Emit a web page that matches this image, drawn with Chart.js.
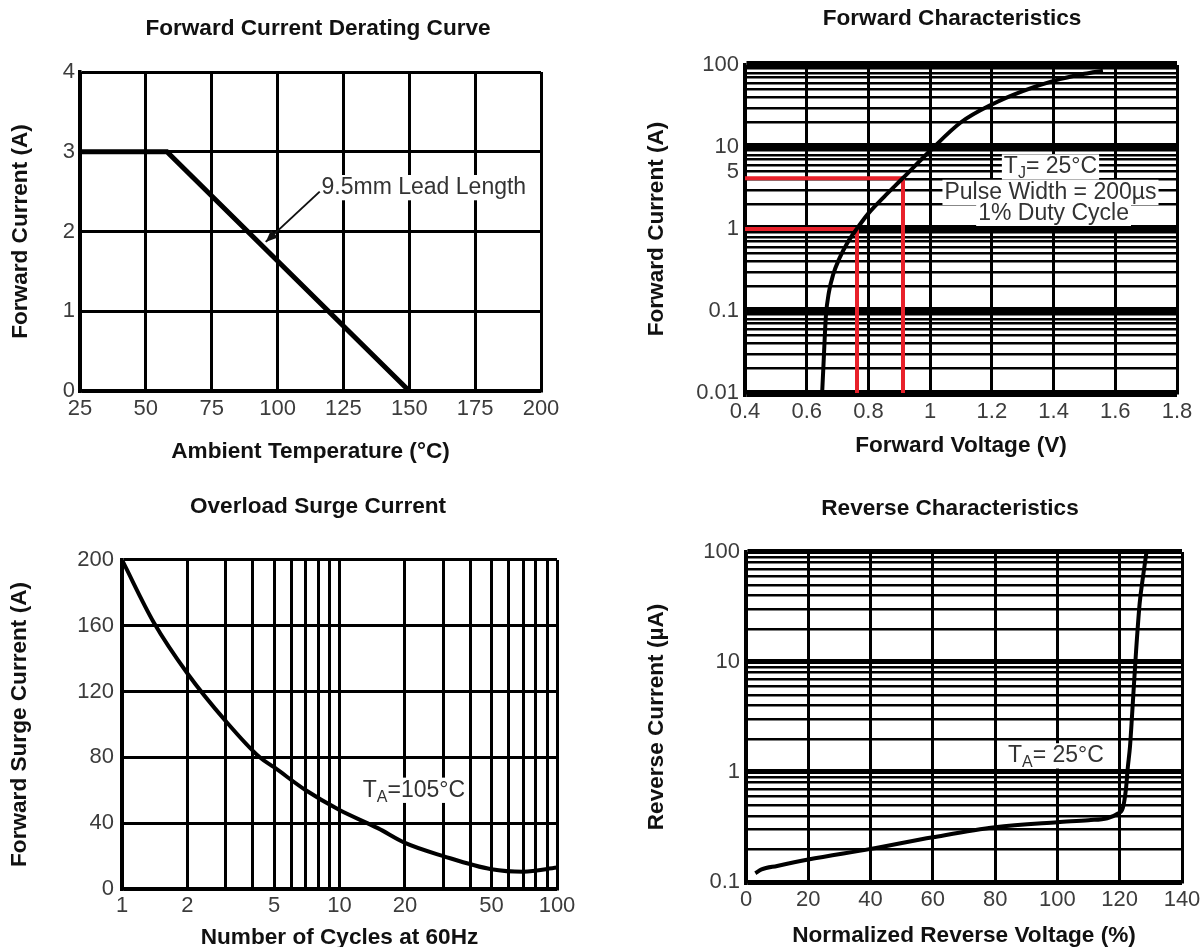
<!DOCTYPE html>
<html>
<head>
<meta charset="utf-8">
<title>Diode characteristic curves</title>
<script src="https://cdn.jsdelivr.net/npm/chart.js@4.4.1/dist/chart.umd.min.js"></script>
<style>
  html, body { margin: 0; padding: 0; background: #fff; overflow: hidden; width: 1203px; height: 947px; }
  canvas { position: absolute; }
</style>
</head>
<body>
<canvas id="deratingChart" width="636" height="470" style="left:0;top:0"></canvas>
<canvas id="forwardChart" width="624" height="470" style="left:640px;top:0"></canvas>
<canvas id="surgeChart" width="636" height="481" style="left:0;top:470px"></canvas>
<canvas id="reverseChart" width="620" height="481" style="left:640px;top:470px"></canvas>
<script>
// ---- data ----

// Forward Current Derating Curve
const deratingTemp = [25, 58, 150];
const deratingCurrent = [3, 3, 0];
const deratingXTicks = [25, 50, 75, 100, 125, 150, 175, 200];
const deratingYTicks = [0, 1, 2, 3, 4];

// Forward Characteristics
const forwardVoltage = [0.65, 0.655, 0.662, 0.672, 0.686, 0.705, 0.732, 0.762, 0.80, 0.85, 0.911, 1.0, 1.1, 1.2, 1.3, 1.4, 1.5, 1.56];
const forwardCurrent = [0.01, 0.025, 0.085, 0.17, 0.28, 0.43, 0.68, 1, 1.55, 2.45, 4.15, 9, 20, 33, 48, 64, 78, 85];
const markerVoltage = [0.763, 0.912];
const markerCurrent = [1, 4.15];
const forwardXTicks = [0.4, 0.6, 0.8, 1, 1.2, 1.4, 1.6, 1.8];
const forwardYLabels = [0.01, 0.1, 1, 5, 10, 100];

// Overload Surge Current
const surgeCycles = [1, 1.4, 2, 3, 4.3, 5, 7, 10, 15, 20, 30, 50, 70, 100];
const surgeCurrent = [200, 162, 131, 102, 80, 74, 60, 48, 37, 28, 20, 12, 10.5, 13];
const surgeXLabels = [1, 2, 5, 10, 20, 50, 100];
const surgeYTicks = [0, 40, 80, 120, 160, 200];

// Reverse Characteristics
const reverseVoltage = [3, 5, 10, 20, 40, 60, 80, 100, 110, 116, 119.5, 121, 122, 122.6, 123.3, 124, 125.2, 126.4, 127.5, 128.6];
const reverseCurrent = [0.12, 0.13, 0.14, 0.16, 0.2, 0.255, 0.315, 0.35, 0.365, 0.38, 0.42, 0.47, 0.7, 1.1, 1.7, 3.4, 11.9, 34, 60, 100];
const reverseXTicks = [0, 20, 40, 60, 80, 100, 120, 140];
const reverseYLabels = [0.1, 1, 10, 100];

// ---- helpers ----
const FONT = "'Liberation Sans', Arial, sans-serif";
const BOLD_SIZE = 22.6;

function toPoints(xs, ys) {
    return xs.map((x, i) => ({ x: x, y: ys[i] }));
}

// 1..9 x 10^n grid values between min and max
function logGrid(min, max) {
    const vals = [];
    for (let p = min; p < max; p = Number((p * 10).toPrecision(3))) {
        for (let d = 1; d < 10; d++) vals.push(Number((d * p).toPrecision(3)));
    }
    vals.push(max);
    return vals;
}

function isDecade(v) {
    const l = Math.log10(v);
    return Math.abs(l - Math.round(l)) < 1e-9;
}

function makeAxis(o) {
    return {
        type: o.type || 'linear',
        min: o.min,
        max: o.max,
        afterBuildTicks: scale => {
            scale.ticks = o.grid.map(v => ({ value: v, major: o.type === 'logarithmic' && isDecade(v) }));
        },
        afterFit: scale => {
            if (o.horizontal) scale.height = o.fit; else scale.width = o.fit;
        },
        grid: {
            color: '#000',
            lineWidth: ctx => (ctx.tick && ctx.tick.major) ? (o.majorWidth || 3) : (o.minorWidth || 3),
            drawTicks: false
        },
        border: { display: true, color: '#000', width: 3.5 },
        ticks: {
            autoSkip: false,
            maxRotation: 0,
            minRotation: 0,
            padding: o.tickPad,
            color: '#3c3c3c',
            font: { size: 22 },
            callback: v => (o.labels.indexOf(v) >= 0 ? String(v) : '')
        },
        title: {
            display: true,
            text: o.title,
            color: '#111',
            font: { size: BOLD_SIZE, weight: 'bold' },
            padding: o.titlePad
        }
    };
}

// empty right-hand box so the chart title stays centred on the whole panel
function spacer(width) {
    return {
        type: 'linear',
        position: 'right',
        display: true,
        grid: { display: false },
        ticks: { display: false },
        border: { display: false },
        afterFit: scale => { scale.width = width; }
    };
}

function drawRich(ctx, l, x, y) {
    const size = 23;
    const main = size + 'px ' + FONT;
    const small = Math.round(size * 0.7) + 'px ' + FONT;
    let w = 0;
    const widths = l.parts.map(p => {
        ctx.font = p.sub ? small : main;
        const m = ctx.measureText(p.text).width;
        w += m;
        return m;
    });
    let sx = l.align === 'left' ? x : x - w / 2;
    ctx.fillStyle = '#fff';
    ctx.fillRect(sx - 2, y - size * 0.55, w + 4, size * 1.1);
    ctx.fillStyle = '#333';
    ctx.textAlign = 'left';
    ctx.textBaseline = 'middle';
    l.parts.forEach((p, i) => {
        ctx.font = p.sub ? small : main;
        ctx.fillText(p.text, sx, p.sub ? y + size * 0.3 : y);
        sx += widths[i];
    });
}

// text notes and the leader arrow, placed in data coordinates
const notesPlugin = {
    id: 'notes',
    afterDatasetsDraw(chart, args, opts) {
        const ctx = chart.ctx;
        const xs = chart.scales.x, ys = chart.scales.y;
        ctx.save();
        (opts.labels || []).forEach(l => drawRich(ctx, l, xs.getPixelForValue(l.x), ys.getPixelForValue(l.y)));
        (opts.arrows || []).forEach(a => {
            const x1 = xs.getPixelForValue(a.from[0]), y1 = ys.getPixelForValue(a.from[1]);
            const x2 = xs.getPixelForValue(a.to[0]), y2 = ys.getPixelForValue(a.to[1]);
            const ang = Math.atan2(y2 - y1, x2 - x1);
            ctx.strokeStyle = '#111';
            ctx.fillStyle = '#111';
            ctx.lineWidth = 2;
            ctx.beginPath();
            ctx.moveTo(x1, y1);
            ctx.lineTo(x2, y2);
            ctx.stroke();
            ctx.beginPath();
            ctx.moveTo(x2, y2);
            ctx.lineTo(x2 - 13 * Math.cos(ang - 0.4), y2 - 13 * Math.sin(ang - 0.4));
            ctx.lineTo(x2 - 13 * Math.cos(ang + 0.4), y2 - 13 * Math.sin(ang + 0.4));
            ctx.closePath();
            ctx.fill();
        });
        ctx.restore();
    }
};

Chart.defaults.font.family = FONT;
Chart.defaults.animation = false;
Chart.defaults.plugins.legend.display = false;
Chart.defaults.plugins.tooltip.enabled = false;
Chart.defaults.elements.point.radius = 0;
Chart.register(notesPlugin);

function chartTitle(text, top, bottom) {
    return { display: true, text: text, color: '#111', font: { size: BOLD_SIZE, weight: 'bold' }, padding: { top: top, bottom: bottom } };
}

// Forward Current Derating Curve
new Chart(document.getElementById('deratingChart'), {
    type: 'line',
    data: {
        datasets: [{
            data: toPoints(deratingTemp, deratingCurrent),
            borderColor: '#000',
            borderWidth: 5
        }]
    },
    options: {
        responsive: false,
        layout: { padding: 0 },
        plugins: {
            title: chartTitle('Forward Current Derating Curve', 15.4, 29.5),
            notes: {
                labels: [{ x: 116.7, y: 2.55, align: 'left', parts: [{ text: '9.5mm Lead Length' }] }],
                arrows: [{ from: [116, 2.5], to: [95.5, 1.87] }]
            }
        },
        scales: {
            x: makeAxis({ min: 25, max: 200, grid: deratingXTicks, labels: deratingXTicks, horizontal: true, fit: 79,
                tickPad: 5, title: 'Ambient Temperature (°C)', titlePad: { top: 0, bottom: 4.4 } }),
            y: makeAxis({ min: 0, max: 4, grid: deratingYTicks, labels: deratingYTicks, fit: 80,
                tickPad: 5, title: 'Forward Current (A)', titlePad: { top: 7.4, bottom: 0 } }),
            gap: spacer(95)
        }
    }
});

// Forward Characteristics
new Chart(document.getElementById('forwardChart'), {
    type: 'line',
    data: {
        datasets: [{
            data: toPoints(forwardVoltage, forwardCurrent),
            borderColor: '#000',
            borderWidth: 4,
            cubicInterpolationMode: 'monotone'
        }].concat(markerVoltage.map((v, i) => ({
            data: [{ x: 0.4, y: markerCurrent[i] }, { x: v, y: markerCurrent[i] }, { x: v, y: 0.01 }],
            borderColor: '#e8202a',
            borderWidth: 4
        })))
    },
    options: {
        responsive: false,
        layout: { padding: 0 },
        plugins: {
            title: chartTitle('Forward Characteristics', 4.9, 32.9),
            notes: {
                labels: [
                    { x: 1.39, y: 5.7, parts: [{ text: 'T' }, { text: 'J', sub: true }, { text: '= 25°C' }] },
                    { x: 1.39, y: 2.79, parts: [{ text: 'Pulse Width = 200µs' }] },
                    { x: 1.40, y: 1.55, parts: [{ text: '1% Duty Cycle' }] }
                ]
            }
        },
        scales: {
            x: makeAxis({ min: 0.4, max: 1.8, grid: forwardXTicks, labels: forwardXTicks, horizontal: true, fit: 77,
                tickPad: 5.8, title: 'Forward Voltage (V)', titlePad: { top: 0, bottom: 10.4 } }),
            y: makeAxis({ type: 'logarithmic', min: 0.01, max: 100, grid: logGrid(0.01, 100), labels: forwardYLabels,
                fit: 105, majorWidth: 7, minorWidth: 2.5, tickPad: 6,
                title: 'Forward Current (A)', titlePad: { top: 3.4, bottom: 0 } }),
            gap: spacer(87)
        }
    }
});

// Overload Surge Current
new Chart(document.getElementById('surgeChart'), {
    type: 'line',
    data: {
        datasets: [{
            data: toPoints(surgeCycles, surgeCurrent),
            borderColor: '#000',
            borderWidth: 4,
            cubicInterpolationMode: 'monotone'
        }]
    },
    options: {
        responsive: false,
        layout: { padding: 0 },
        plugins: {
            title: chartTitle('Overload Surge Current', 23.4, 39.4),
            notes: {
                labels: [{ x: 12.8, y: 60, align: 'left', parts: [{ text: 'T' }, { text: 'A', sub: true }, { text: '=105°C' }] }]
            }
        },
        scales: {
            x: makeAxis({ type: 'logarithmic', min: 1, max: 100, grid: logGrid(1, 100), labels: surgeXLabels,
                horizontal: true, fit: 62, majorWidth: 3, minorWidth: 3, tickPad: 3.8,
                title: 'Number of Cycles at 60Hz', titlePad: { top: 0, bottom: 0 } }),
            y: makeAxis({ min: 0, max: 200, grid: surgeYTicks, labels: surgeYTicks, fit: 122,
                tickPad: 8, title: 'Forward Surge Current (A)', titlePad: { top: 6.4, bottom: 0 } }),
            gap: spacer(79)
        }
    }
});

// Reverse Characteristics
new Chart(document.getElementById('reverseChart'), {
    type: 'line',
    data: {
        datasets: [{
            data: toPoints(reverseVoltage, reverseCurrent),
            borderColor: '#000',
            borderWidth: 4,
            cubicInterpolationMode: 'monotone'
        }]
    },
    options: {
        responsive: false,
        layout: { padding: 0 },
        plugins: {
            title: chartTitle('Reverse Characteristics', 24.9, 29.9),
            notes: {
                labels: [{ x: 84.1, y: 1.4, align: 'left', parts: [{ text: 'T' }, { text: 'A', sub: true }, { text: '= 25°C' }] }]
            }
        },
        scales: {
            x: makeAxis({ min: 0, max: 140, grid: reverseXTicks, labels: reverseXTicks, horizontal: true, fit: 69,
                tickPad: 4.8, title: 'Normalized Reverse Voltage (%)', titlePad: { top: 0, bottom: 1.4 } }),
            y: makeAxis({ type: 'logarithmic', min: 0.1, max: 100, grid: logGrid(0.1, 100), labels: reverseYLabels,
                fit: 106, majorWidth: 5, minorWidth: 2.5, tickPad: 6,
                title: 'Reverse Current (µA)', titlePad: { top: 3.4, bottom: 0 } }),
            gap: spacer(78)
        }
    }
});
</script>
</body>
</html>
